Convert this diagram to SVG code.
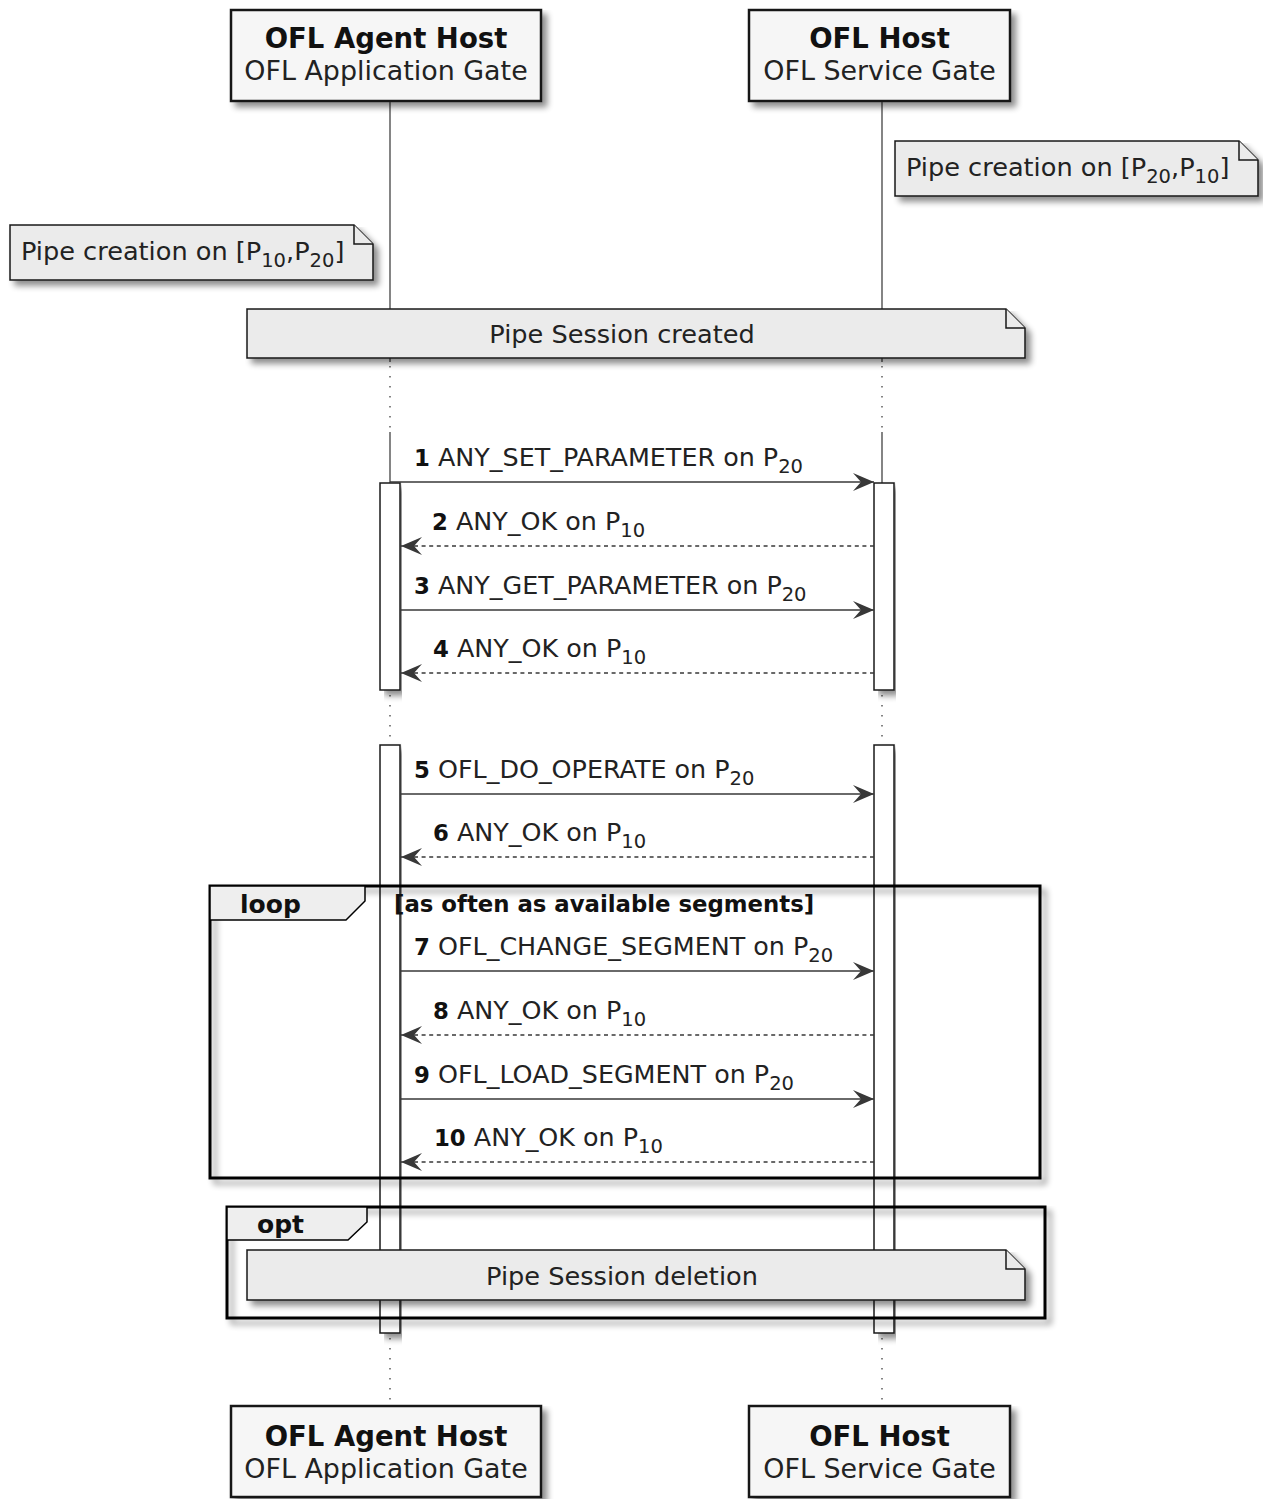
<svg xmlns="http://www.w3.org/2000/svg" width="1263" height="1499" viewBox="0 0 1263 1499">
<defs>
<filter id="sh" x="-5%" y="-5%" width="115%" height="130%">
<feGaussianBlur in="SourceAlpha" stdDeviation="3"/>
<feOffset dx="5" dy="5" result="b"/>
<feComponentTransfer><feFuncA type="linear" slope="0.45"/></feComponentTransfer>
<feMerge><feMergeNode/><feMergeNode in="SourceGraphic"/></feMerge>
</filter>
<marker id="ah" markerWidth="24" markerHeight="20" refX="21" refY="9" orient="auto" markerUnits="userSpaceOnUse">
<path d="M0,0 L21,9 L0,18 L8,9 Z" fill="#383838"/>
</marker>
</defs>
<style>
text{font-family:"DejaVu Sans","Liberation Sans",sans-serif;fill:#000}
.pt{font-size:27.5px;font-weight:bold;text-anchor:middle;fill:#111}
.ps{font-size:26.9px;text-anchor:middle;fill:#222}
.box{fill:#F6F6F6;stroke:#181818;stroke-width:2.5}
.note{fill:#EBEBEB;stroke:#181818;stroke-width:1.5}
.nt{font-size:25.6px;fill:#222}
.sub{font-size:19.5px}
.life{stroke:#333;stroke-width:1.2;fill:none}
.dot{stroke:#333;stroke-width:1.2;stroke-dasharray:1.5 8.5;fill:none}
.act{fill:#FFFFFF;stroke:#181818;stroke-width:1.5}
.msg{stroke:#383838;stroke-width:1.5;fill:none;marker-end:url(#ah)}
.ret{stroke-dasharray:4 3.6}
.ml{font-size:25.4px;fill:#222}
.num{font-weight:bold;font-size:22.8px;fill:#111}
.frame{fill:none;stroke:#000;stroke-width:3}
.tab{fill:#EEEEEE;stroke:#000;stroke-width:1.5}
.fl{font-size:25px;font-weight:bold;fill:#111}
.cond{font-size:22.8px;font-weight:bold;fill:#111}
</style>

<g id="lifelines">
<line class="life" x1="390" y1="101" x2="390" y2="362"/>
<line class="dot" x1="390" y1="366" x2="390" y2="430"/>
<line class="life" x1="390" y1="432" x2="390" y2="483"/>
<line class="dot" x1="390" y1="695" x2="390" y2="742"/>
<line class="dot" x1="390" y1="1338" x2="390" y2="1406"/>
<line class="life" x1="882" y1="101" x2="882" y2="362"/>
<line class="dot" x1="882" y1="366" x2="882" y2="430"/>
<line class="life" x1="882" y1="432" x2="882" y2="483"/>
<line class="dot" x1="882" y1="695" x2="882" y2="742"/>
<line class="dot" x1="882" y1="1338" x2="882" y2="1406"/>
</g>

<g id="activations">
<rect class="act" x="380" y="483" width="20" height="207" filter="url(#sh)"/>
<rect class="act" x="874" y="483" width="20" height="207" filter="url(#sh)"/>
<rect class="act" x="380" y="745" width="20" height="588" filter="url(#sh)"/>
<rect class="act" x="874" y="745" width="20" height="588" filter="url(#sh)"/>
</g>

<g id="participant-agent-top">
<rect class="box" x="231" y="10" width="310" height="91" filter="url(#sh)"/>
<text class="pt" x="386" y="48">OFL Agent Host</text>
<text class="ps" x="386" y="80">OFL Application Gate</text>
</g>
<g id="participant-host-top">
<rect class="box" x="749" y="10" width="261" height="91" filter="url(#sh)"/>
<text class="pt" x="879.5" y="48">OFL Host</text>
<text class="ps" x="879.5" y="80">OFL Service Gate</text>
</g>
<g id="participant-agent-bottom">
<rect class="box" x="231" y="1406" width="310" height="91" filter="url(#sh)"/>
<text class="pt" x="386" y="1446">OFL Agent Host</text>
<text class="ps" x="386" y="1478">OFL Application Gate</text>
</g>
<g id="participant-host-bottom">
<rect class="box" x="749" y="1406" width="261" height="91" filter="url(#sh)"/>
<text class="pt" x="879.5" y="1446">OFL Host</text>
<text class="ps" x="879.5" y="1478">OFL Service Gate</text>
</g>

<g id="note-host">
<path class="note" d="M895,141 H1239 L1258,160 V196 H895 Z" filter="url(#sh)"/>
<path class="note" d="M1239,141 V160 H1258" fill="none"/>
<text class="nt" x="906" y="176">Pipe creation on [P<tspan class="sub" dy="7">20</tspan><tspan dy="-7">,P</tspan><tspan class="sub" dy="7">10</tspan><tspan dy="-7">]</tspan></text>
</g>
<g id="note-agent">
<path class="note" d="M10,225 H354 L373,244 V280 H10 Z" filter="url(#sh)"/>
<path class="note" d="M354,225 V244 H373" fill="none"/>
<text class="nt" x="21" y="260">Pipe creation on [P<tspan class="sub" dy="7">10</tspan><tspan dy="-7">,P</tspan><tspan class="sub" dy="7">20</tspan><tspan dy="-7">]</tspan></text>
</g>
<g id="note-session-created">
<path class="note" d="M247,309 H1006 L1025,328 V358 H247 Z" filter="url(#sh)"/>
<path class="note" d="M1006,309 V328 H1025" fill="none"/>
<text class="nt" x="622" y="343" text-anchor="middle">Pipe Session created</text>
</g>

<g id="connectors">
<line class="msg" x1="390" y1="482" x2="874" y2="482"/>
<line class="msg ret" x1="874" y1="546" x2="401" y2="546"/>
<line class="msg" x1="401" y1="610" x2="874" y2="610"/>
<line class="msg ret" x1="874" y1="673" x2="401" y2="673"/>
<line class="msg" x1="401" y1="794" x2="874" y2="794"/>
<line class="msg ret" x1="874" y1="857" x2="401" y2="857"/>
<line class="msg" x1="401" y1="971" x2="874" y2="971"/>
<line class="msg ret" x1="874" y1="1035" x2="401" y2="1035"/>
<line class="msg" x1="401" y1="1099" x2="874" y2="1099"/>
<line class="msg ret" x1="874" y1="1162" x2="401" y2="1162"/>
</g>

<g id="labels">
<text class="ml" x="414" y="466"><tspan class="num">1</tspan> ANY_SET_PARAMETER on P<tspan class="sub" dy="7">20</tspan></text>
<text class="ml" x="432" y="530"><tspan class="num">2</tspan> ANY_OK on P<tspan class="sub" dy="7">10</tspan></text>
<text class="ml" x="414" y="594"><tspan class="num">3</tspan> ANY_GET_PARAMETER on P<tspan class="sub" dy="7">20</tspan></text>
<text class="ml" x="433" y="657"><tspan class="num">4</tspan> ANY_OK on P<tspan class="sub" dy="7">10</tspan></text>
<text class="ml" x="414" y="778"><tspan class="num">5</tspan> OFL_DO_OPERATE on P<tspan class="sub" dy="7">20</tspan></text>
<text class="ml" x="433" y="841"><tspan class="num">6</tspan> ANY_OK on P<tspan class="sub" dy="7">10</tspan></text>
<text class="ml" x="414" y="955"><tspan class="num">7</tspan> OFL_CHANGE_SEGMENT on P<tspan class="sub" dy="7">20</tspan></text>
<text class="ml" x="433" y="1019"><tspan class="num">8</tspan> ANY_OK on P<tspan class="sub" dy="7">10</tspan></text>
<text class="ml" x="414" y="1083"><tspan class="num">9</tspan> OFL_LOAD_SEGMENT on P<tspan class="sub" dy="7">20</tspan></text>
<text class="ml" x="434" y="1146"><tspan class="num">10</tspan> ANY_OK on P<tspan class="sub" dy="7">10</tspan></text>
</g>

<g id="loop">
<rect class="frame" x="210" y="886" width="830" height="292" filter="url(#sh)"/>
<path class="tab" d="M210,886 H365 V901 L346,920 H210 Z"/>
<text class="fl" x="240" y="913">loop</text>
<text class="cond" x="394" y="912">[as often as available segments]</text>
</g>

<g id="opt">
<rect class="frame" x="227" y="1207" width="818" height="111" filter="url(#sh)"/>
<path class="tab" d="M227,1207 H367 V1222 L348,1240 H227 Z"/>
<text class="fl" x="257" y="1233">opt</text>
</g>
<g id="note-session-deletion">
<path class="note" d="M247,1250 H1006 L1025,1269 V1300 H247 Z" filter="url(#sh)"/>
<path class="note" d="M1006,1250 V1269 H1025" fill="none"/>
<text class="nt" x="622" y="1285" text-anchor="middle">Pipe Session deletion</text>
</g>
</svg>
